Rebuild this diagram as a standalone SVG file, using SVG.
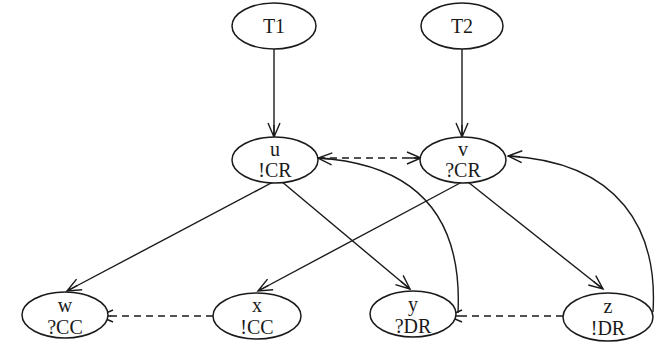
<svg xmlns="http://www.w3.org/2000/svg" width="655" height="346" viewBox="0 0 655 346">
<defs>
<style>
.n ellipse{fill:#fff;stroke:#1a1a1a;stroke-width:1.5}
.n text{font-family:"Liberation Serif","Times New Roman",serif;font-size:20px;fill:#1a1a1a;text-anchor:middle}
.e{fill:none;stroke:#1a1a1a;stroke-width:1.4;marker-end:url(#ah)}
.d{stroke-dasharray:7,5}
</style>
<marker id="ah" viewBox="-1 -1 17 14" refX="14" refY="6" markerWidth="17" markerHeight="14" markerUnits="userSpaceOnUse" orient="auto">
<path d="M0,0 L14,6 L0,12 M2,6 L14,6" fill="none" stroke="#1a1a1a" stroke-width="1.4"/>
</marker>
</defs>
<rect width="655" height="346" fill="#fff"/>
<g id="connectors">
<path class="e" d="M274,49 L274,137"/>
<path class="e" d="M462,49 L462,137"/>
<path class="e" d="M275,181 L67,291"/>
<path class="e" d="M281,181 L410,289"/>
<path class="e" d="M462,182 L258,291"/>
<path class="e" d="M468,182 L603,289"/>
<path class="e d" d="M318,158 L421,158"/>
<path class="e d" d="M213,316 L99,316"/>
<path class="e d" d="M563,316 L448,316"/>
<path class="e" d="M458,313 C462,230 430,165 318,158"/>
<path class="e" d="M653,312 C658,230 620,162 508,156"/>
</g>
<g id="T1" class="n"><ellipse cx="274" cy="26" rx="42" ry="23"/><text x="274" y="33">T1</text></g>
<g id="T2" class="n"><ellipse cx="462" cy="26" rx="41" ry="23"/><text x="462" y="33">T2</text></g>
<g id="u" class="n"><ellipse cx="275" cy="160" rx="43" ry="23"/><text x="275" y="156">u</text><text x="275" y="177">!CR</text></g>
<g id="v" class="n"><ellipse cx="463" cy="160" rx="43" ry="23"/><text x="463" y="156">v</text><text x="463" y="177">?CR</text></g>
<g id="w" class="n"><ellipse cx="65" cy="315" rx="43" ry="23"/><text x="65" y="312">w</text><text x="65" y="334">?CC</text></g>
<g id="x" class="n"><ellipse cx="257" cy="316" rx="44" ry="23"/><text x="257" y="312">x</text><text x="257" y="334">!CC</text></g>
<g id="y" class="n"><ellipse cx="413" cy="314" rx="43" ry="23"/><text x="413" y="311">y</text><text x="413" y="333">?DR</text></g>
<g id="z" class="n"><ellipse cx="608" cy="317" rx="45" ry="24"/><text x="608" y="313">z</text><text x="608" y="335">!DR</text></g>
</svg>
